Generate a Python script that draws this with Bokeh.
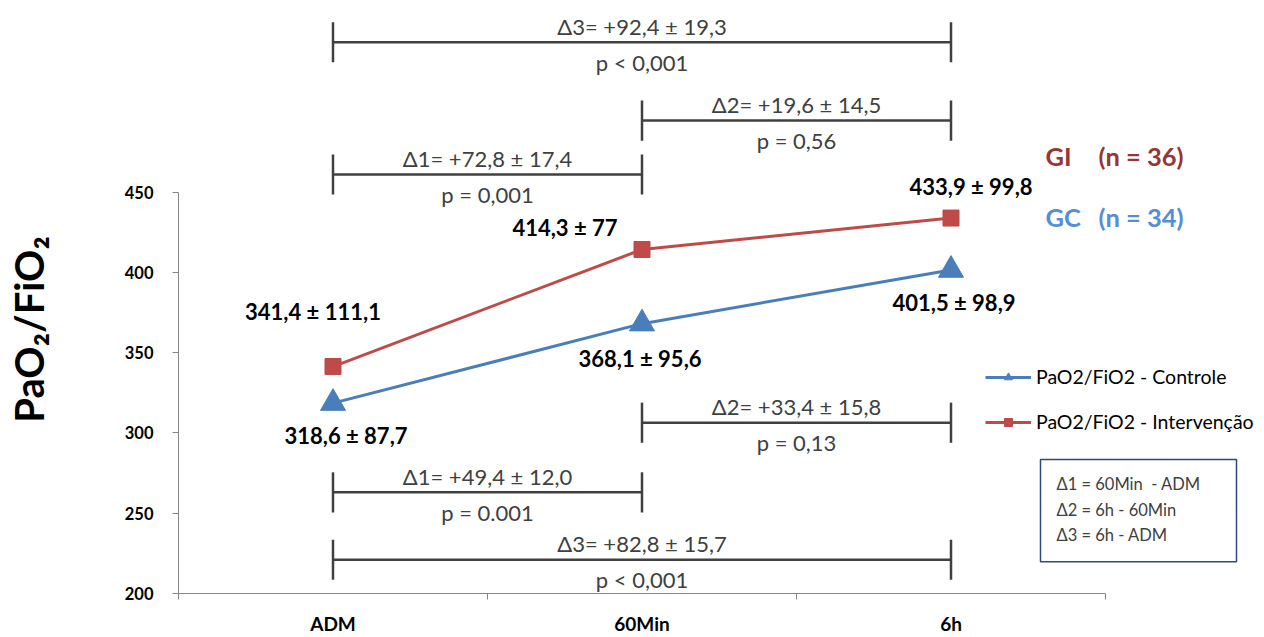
from bokeh.plotting import figure
from bokeh.models import (FixedTicker, Legend, LegendItem, Label, ColumnDataSource,
                          BoxAnnotation)
from bokeh.core.properties import value
from bokeh.embed import file_html
from bokeh.resources import INLINE

# ---------------- data ----------------
categories = ["ADM", "60Min", "6h"]
controle_mean = [318.6, 368.1, 401.5]
controle_sd = ["87,7", "95,6", "98,9"]
intervencao_mean = [341.4, 414.3, 433.9]
intervencao_sd = ["111,1", "77", "99,8"]
y_ticks = [200, 250, 300, 350, 400, 450]

gi_from = [0, 1, 0]
gi_to = [1, 2, 2]
gi_delta = ["Δ1= +72,8 ± 17,4", "Δ2= +19,6 ± 14,5", "Δ3= +92,4 ± 19,3"]
gi_p = ["p = 0,001", "p = 0,56", "p < 0,001"]

gc_from = [0, 1, 0]
gc_to = [1, 2, 2]
gc_delta = ["Δ1= +49,4 ± 12,0", "Δ2= +33,4 ± 15,8", "Δ3= +82,8 ± 15,7"]
gc_p = ["p = 0.001", "p = 0,13", "p < 0,001"]

legend_labels = ["PaO2/FiO2 - Controle", "PaO2/FiO2 - Intervenção"]
group_names = ["GI", "GC"]
group_n = ["(n = 36)", "(n = 34)"]
delta_defs = ["Δ1 = 60Min\u00a0 - ADM", "Δ2 = 6h - 60Min", "Δ3 = 6h - ADM"]
y_title = "PaO₂/FiO₂"

# ---------------- layout / style ----------------
BLUE = "#4A7EBB"
RED = "#BE4B48"
GI_COLOR = "#953735"
GC_COLOR = "#558ED5"
TXT = "#404040"
AXIS = "#868686"
FONT = "Lato"

W, H = 1260, 637
LEFT, BOTTOM = 178, 597          # frame left / x-axis position (px)
PX_CAT, PX_UNIT = 309.0, 1.616   # px per category, px per y unit
TITLE_PAD = "\u2003\u2003\u2009"  # pushes the (centred) y title down, as in the original

# bracket vertical levels (data units) and value-label offsets (px)
gi_level = [461.0, 494.6, 543.4]
gc_level = [263.0, 306.4, 221.0]
gi_dx = [-20, -77, 20]
gi_dy = [-55, -22, -32]
gc_dx = [13, -2, 3]
gc_dy = [32, 35, 32]


def sx(px):
    return -0.5 + (px - LEFT) / PX_CAT


def sy(py):
    return 200 + (BOTTOM - py) / PX_UNIT


def fmt(m, sd):
    return f"{m:.1f}".replace(".", ",") + " ± " + sd


xs = list(range(len(categories)))

p = figure(width=W, height=H, x_range=(-0.5, sx(W)), y_range=(200, sy(0)),
           output_backend="svg", toolbar_location=None,
           min_border_left=LEFT, min_border_right=0,
           min_border_top=0, min_border_bottom=H - BOTTOM)
p.outline_line_color = None
p.xgrid.visible = False
p.ygrid.visible = False
p.background_fill_color = "white"

# axes
p.yaxis.ticker = FixedTicker(ticks=y_ticks)
p.yaxis.bounds = (200, 450)
p.yaxis.axis_line_color = AXIS
p.yaxis.major_tick_line_color = AXIS
p.yaxis.major_tick_out = 6
p.yaxis.major_tick_in = 0
p.yaxis.minor_tick_line_color = None
p.yaxis.major_label_text_font = FONT
p.yaxis.major_label_text_font_style = "bold"
p.yaxis.major_label_text_font_size = "16.5px"
p.yaxis.major_label_text_color = "black"
p.yaxis.major_label_standoff = 19
p.yaxis.axis_label = y_title + TITLE_PAD
p.yaxis.axis_label_text_font = FONT
p.yaxis.axis_label_text_font_style = "bold"
p.yaxis.axis_label_text_font_size = "40px"
p.yaxis.axis_label_text_color = "black"
p.yaxis.axis_label_standoff = 69

p.xaxis.ticker = FixedTicker(ticks=xs, minor_ticks=[-0.5, 0.5, 1.5, 2.5])
p.xaxis.bounds = (-0.5, 2.5)
p.xaxis.major_label_overrides = {i: c for i, c in enumerate(categories)}
p.xaxis.axis_line_color = AXIS
p.xaxis.major_tick_line_color = None
p.xaxis.major_tick_out = 6
p.xaxis.minor_tick_line_color = AXIS
p.xaxis.minor_tick_out = 6
p.xaxis.minor_tick_in = 0
p.xaxis.major_label_text_font = FONT
p.xaxis.major_label_text_font_style = "bold"
p.xaxis.major_label_text_font_size = "19px"
p.xaxis.major_label_text_color = "black"
p.xaxis.major_label_standoff = 12


# brackets
def brackets(frm, to, level, top_txt, bot_txt):
    src = ColumnDataSource(dict(x0=frm, x1=to, y=level, top=top_txt, bot=bot_txt,
                                xm=[(a + b) / 2 for a, b in zip(frm, to)],
                                ylo=[v - 12.5 for v in level], yhi=[v + 12.5 for v in level]))
    p.segment(x0="x0", y0="y", x1="x1", y1="y", source=src, line_color=TXT, line_width=2.5)
    p.segment(x0="x0", y0="ylo", x1="x0", y1="yhi", source=src, line_color=TXT, line_width=2.5)
    p.segment(x0="x1", y0="ylo", x1="x1", y1="yhi", source=src, line_color=TXT, line_width=2.5)
    p.text(x="xm", y="y", text="top", source=src, y_offset=-16, text_align="center",
           text_baseline="middle", text_font=value(FONT), text_font_size="22px", text_color=TXT)
    p.text(x="xm", y="y", text="bot", source=src, y_offset=20, text_align="center",
           text_baseline="middle", text_font=value(FONT), text_font_size="22px", text_color=TXT)


brackets(gi_from, gi_to, gi_level, gi_delta, gi_p)
brackets(gc_from, gc_to, gc_level, gc_delta, gc_p)

# series
l1 = p.line(xs, controle_mean, line_color=BLUE, line_width=3)
s1 = p.scatter(xs, controle_mean, marker="triangle", size=25, color=BLUE)
l2 = p.line(xs, intervencao_mean, line_color=RED, line_width=3)
s2 = p.scatter(xs, intervencao_mean, marker="square", size=16, color=RED)

# value labels
for means, sds, dxs, dys in ((intervencao_mean, intervencao_sd, gi_dx, gi_dy),
                             (controle_mean, controle_sd, gc_dx, gc_dy)):
    src = ColumnDataSource(dict(x=xs, y=means, t=[fmt(m, s) for m, s in zip(means, sds)],
                                dx=dxs, dy=dys))
    p.text(x="x", y="y", text="t", x_offset="dx", y_offset="dy", source=src,
           text_align="center", text_baseline="middle", text_font=value(FONT),
           text_font_style="bold", text_font_size="22px", text_color="black")

# legend
legend = Legend(items=[LegendItem(label=legend_labels[0], renderers=[l1, s1]),
                       LegendItem(label=legend_labels[1], renderers=[l2, s2])],
                location=(985 - LEFT, 160), padding=0, margin=0, spacing=22,
                glyph_width=46, glyph_height=20, label_standoff=5,
                label_text_font=FONT, label_text_font_size="19.5px", label_text_color="black",
                border_line_color=None, background_fill_alpha=0)
p.add_layout(legend)

# group labels
for name, n, py, col in ((group_names[0], group_n[0], 157, GI_COLOR),
                         (group_names[1], group_n[1], 218, GC_COLOR)):
    p.add_layout(Label(x=sx(1045), y=sy(py), text=name, text_font=FONT, text_font_style="bold",
                       text_font_size="25.5px", text_color=col, text_baseline="middle"))
    p.add_layout(Label(x=sx(1098), y=sy(py), text=n, text_font=FONT, text_font_style="bold",
                       text_font_size="25.5px", text_color=col, text_baseline="middle"))

# definition box
p.add_layout(BoxAnnotation(left=sx(1040), right=sx(1236), top=sy(462), bottom=sy(565),
                           fill_color="white", fill_alpha=1.0,
                           line_color="#2E4A7A", line_alpha=1.0, line_width=1.5))
for i, t in enumerate(delta_defs):
    p.add_layout(Label(x=sx(1056), y=sy(487 + 25.5 * i), text=t, text_font=FONT,
                       text_font_size="16.5px", text_color=TXT,
                       text_align="left", text_baseline="middle"))

open("out.html", "w").write(file_html(p, INLINE))
